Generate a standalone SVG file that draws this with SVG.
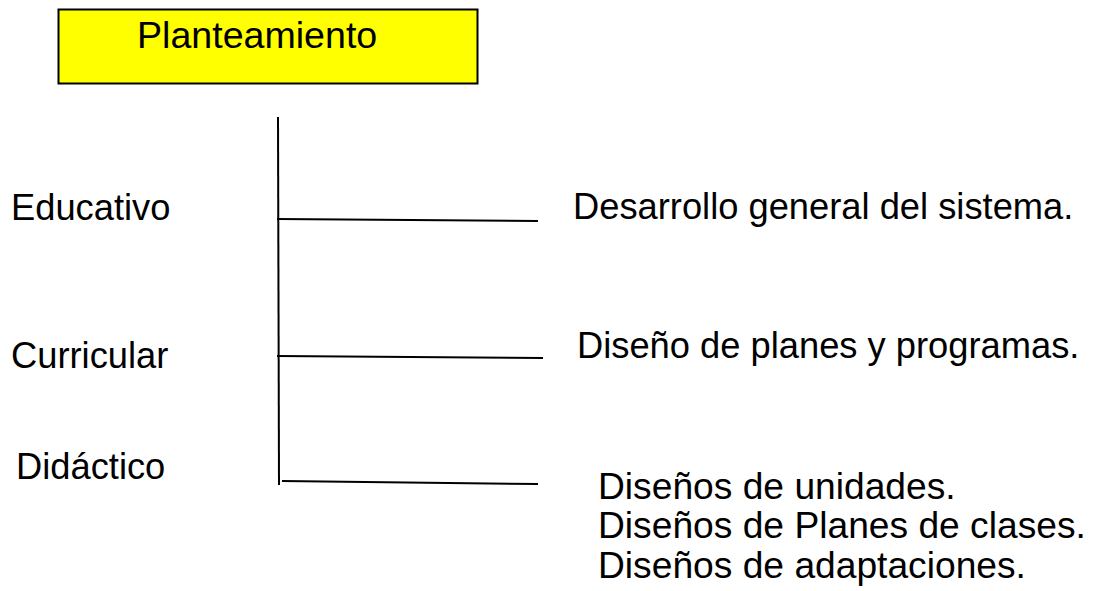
<svg xmlns="http://www.w3.org/2000/svg" width="1094" height="591" viewBox="0 0 1094 591">
<style>
text{font-family:"Liberation Sans",Arial,sans-serif;font-size:36.3px;fill:#000}
.big{font-size:37.2px}
.title{font-size:37.6px}
.ln{stroke:#000;stroke-width:2;fill:none}
</style>
<rect width="1094" height="591" fill="#fff"/>
<g id="planteamiento">
<rect x="58.5" y="9.5" width="419" height="74" fill="#ffff00" stroke="#000" stroke-width="2"/>
<text class="title" x="137" y="48">Planteamiento</text>
</g>
<g id="connectors">
<line class="ln" x1="278" y1="117" x2="279" y2="485"/>
<line class="ln" x1="277" y1="219" x2="538" y2="221"/>
<line class="ln" x1="277" y1="356" x2="543" y2="358"/>
<line class="ln" x1="282" y1="481" x2="538" y2="484"/>
</g>
<g id="educativo"><text x="11" y="220">Educativo</text></g>
<g id="curricular"><text x="11" y="368">Curricular</text></g>
<g id="didactico"><text x="16" y="479">Didáctico</text></g>
<g id="desarrollo"><text x="573" y="219">Desarrollo general del sistema.</text></g>
<g id="diseno-planes"><text x="577" y="358">Diseño de planes y programas.</text></g>
<g id="disenos">
<text class="big" x="598" y="499">Diseños de unidades.</text>
<text class="big" x="598" y="538">Diseños de Planes de clases.</text>
<text class="big" x="598" y="578">Diseños de adaptaciones.</text>
</g>
</svg>
